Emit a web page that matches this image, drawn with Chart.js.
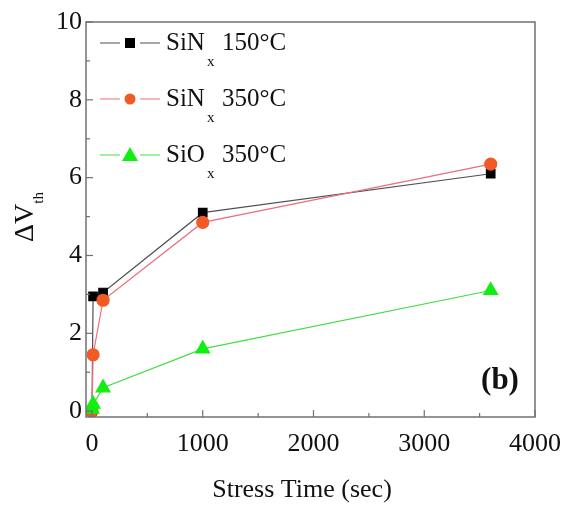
<!DOCTYPE html>
<html><head><meta charset="utf-8">
<script src="https://cdn.jsdelivr.net/npm/chart.js@4"></script>
<style>html,body{margin:0;padding:0;background:#fff}#wrap{width:564px;height:509px}</style>
</head><body><div id="wrap"><canvas id="c" width="564" height="509"></canvas></div>
<script>
const stressTime = [0, 10, 100, 1000, 3600];
const sin150 = [0, 2.95, 3.05, 5.1, 6.1];
const sin350 = [0, 1.45, 2.85, 4.85, 6.35];
const siox350 = [0.05, 0.18, 0.6, 1.6, 3.1];
const xTicks = [0, 1000, 2000, 3000, 4000];
const yTicks = [0, 2, 4, 6, 8, 10];
const legendNames = [["SiN","x","150°C"],["SiN","x","350°C"],["SiO","x","350°C"]];

const SERIF = '"Liberation Serif","DejaVu Serif",serif';
const toPts = ys => stressTime.map((t,i)=>({x:t,y:ys[i]}));

const styles = [
  {line:'#505050', fill:'#000000', pt:'rect', r:6},
  {line:'#e8707a', fill:'#f25a25', pt:'circle', r:6},
  {line:'#44dd44', fill:'#11ee11', pt:'triangle', r:8}
];
const seriesData = [sin150, sin350, siox350];

const decor = {
  id:'decor',
  afterDraw(chart){
    const {ctx, chartArea:a, scales:{x,y}} = chart;
    ctx.save();
    ctx.strokeStyle = '#707070'; ctx.lineWidth = 1.5;
    ctx.strokeRect(a.left, a.top, a.right-a.left, a.bottom-a.top);
    ctx.lineWidth = 1.2;
    for (let v=0; v<=4000; v+=500){
      const px = x.getPixelForValue(v); const L = v%1000===0?7:4;
      ctx.beginPath(); ctx.moveTo(px,a.bottom); ctx.lineTo(px,a.bottom-L); ctx.stroke();
    }
    for (let v=0; v<=10; v+=1){
      const py = y.getPixelForValue(v); const L = v%2===0?7:4;
      ctx.beginPath(); ctx.moveTo(a.left,py); ctx.lineTo(a.left+L,py); ctx.stroke();
    }
    const rows = [43, 99, 155];
    rows.forEach((ry,i)=>{
      const s = styles[i];
      ctx.strokeStyle = s.line; ctx.lineWidth = 1.2;
      ctx.beginPath(); ctx.moveTo(100,ry); ctx.lineTo(120,ry); ctx.moveTo(140,ry); ctx.lineTo(160,ry); ctx.stroke();
      ctx.fillStyle = s.fill;
      if (s.pt==='rect'){ ctx.fillRect(125,ry-5,10,10); }
      else if (s.pt==='circle'){ ctx.beginPath(); ctx.arc(130,ry,5.5,0,Math.PI*2); ctx.fill(); }
      else { ctx.beginPath(); ctx.moveTo(130,ry-8); ctx.lineTo(138,ry+6); ctx.lineTo(122,ry+6); ctx.closePath(); ctx.fill(); }
      ctx.fillStyle = '#111'; ctx.textBaseline='middle'; ctx.textAlign='left';
      ctx.font = '25px '+SERIF;
      const n = legendNames[i];
      ctx.fillText(n[0], 166, ry);
      ctx.font = '15px '+SERIF;
      ctx.fillText(n[1], 207, ry+19);
      ctx.font = '25px '+SERIF;
      ctx.fillText(n[2], 222, ry);
    });
    ctx.font = 'bold 31px '+SERIF; ctx.fillStyle='#111'; ctx.textAlign='center'; ctx.textBaseline='middle';
    ctx.fillText('(b)', 500, 381);
    ctx.font = '26px '+SERIF; ctx.textAlign='center';
    ctx.fillText('Stress Time (sec)', 302, 490);
    ctx.translate(33, 242); ctx.rotate(-Math.PI/2);
    ctx.textBaseline = 'alphabetic';
    ctx.font = '28px '+SERIF; ctx.textAlign='left';
    const t1 = 'ΔV'; const w1 = ctx.measureText(t1).width;
    ctx.fillText(t1, 0, 0);
    ctx.font = '15px '+SERIF;
    ctx.fillText('th', w1, 10);
    ctx.restore();
  }
};

new Chart(document.getElementById('c'), {
  type:'line',
  data:{
    datasets: seriesData.map((d,i)=>({
      label: legendNames[i].join(''),
      data: toPts(d),
      borderColor: styles[i].line,
      backgroundColor: styles[i].fill,
      pointBackgroundColor: styles[i].fill,
      pointBorderColor: styles[i].fill,
      pointStyle: styles[i].pt,
      pointRadius: styles[i].r,
      borderWidth: 1.2,
      tension: 0
    })).reverse()
  },
  options:{
    responsive:false, animation:false, events:[],
    layout:{padding:{top:22, right:29, left:0, bottom:0}},
    plugins:{legend:{display:false}, tooltip:{enabled:false}},
    scales:{
      x:{type:'linear', min:-54, max:4000,
        afterBuildTicks(s){ s.ticks = xTicks.map(v=>({value:v})); },
        afterFit(s){ s.height = 92; s.paddingLeft = 0; s.paddingRight = 0; },
        grid:{display:false, drawTicks:false}, border:{display:false},
        ticks:{color:'#111', font:{family:SERIF, size:26}, padding:12, maxRotation:0,
          callback:v=>String(v)}
      },
      y:{type:'linear', min:-0.15, max:10,
        afterBuildTicks(s){ s.ticks = yTicks.map(v=>({value:v})); },
        afterFit(s){ s.width = 86; s.paddingTop = 0; s.paddingBottom = 0; },
        grid:{display:false, drawTicks:false}, border:{display:false},
        ticks:{color:'#111', font:{family:SERIF, size:26}, padding:4, callback:v=>String(v)}
      }
    }
  },
  plugins:[decor]
});
</script></body></html>
